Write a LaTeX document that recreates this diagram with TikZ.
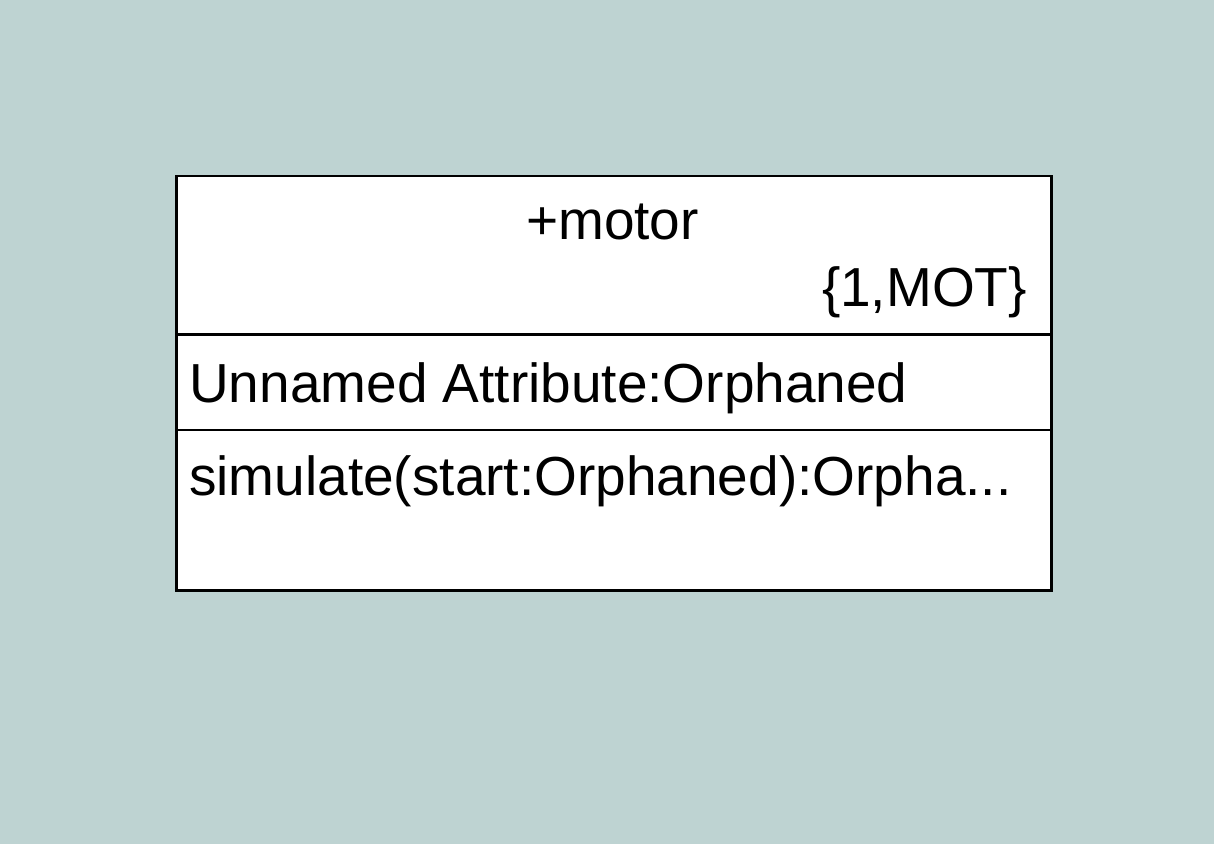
\documentclass[tikz,border=0pt]{standalone}
\usepackage{fontspec}
\setmainfont{Liberation Sans}
\definecolor{bg}{RGB}{190,211,210}
\begin{document}
\begin{tikzpicture}[x=1pt,y=-1pt,
  txt/.style={inner sep=0pt, text=black, font=\fontsize{55}{66}\selectfont},
  rule/.style={line width=2.5pt, draw=black}]
\useasboundingbox (0,0) rectangle (1231,861);
\fill[white] (0,0) rectangle (1231,861);
\fill[bg] (0,0) rectangle (1214,844);
\node[rule, fill=white, minimum width=875pt, minimum height=414pt, anchor=north west, inner sep=0pt] (cls) at (175,175) {};
\coordinate (d1l) at (175,334.5);
\coordinate (d1r) at (1050,334.5);
\coordinate (d2l) at (175,430);
\coordinate (d2r) at (1050,430);
\draw[rule] (d1l) -- (d1r);
\draw[rule] (d2l) -- (d2r);
\node[txt, anchor=base] (name) at (612.5,240) {+motor};
\node[txt, anchor=base east] (mult) at (1027,306) {\{1,MOT\}};
\node[txt, anchor=base west] (attr) at (189,402) {Unnamed Attribute:Orphaned};
\node[txt, anchor=base west] (op) at (189,495) {simulate(start:Orphaned):Orpha...};
\end{tikzpicture}
\end{document}
